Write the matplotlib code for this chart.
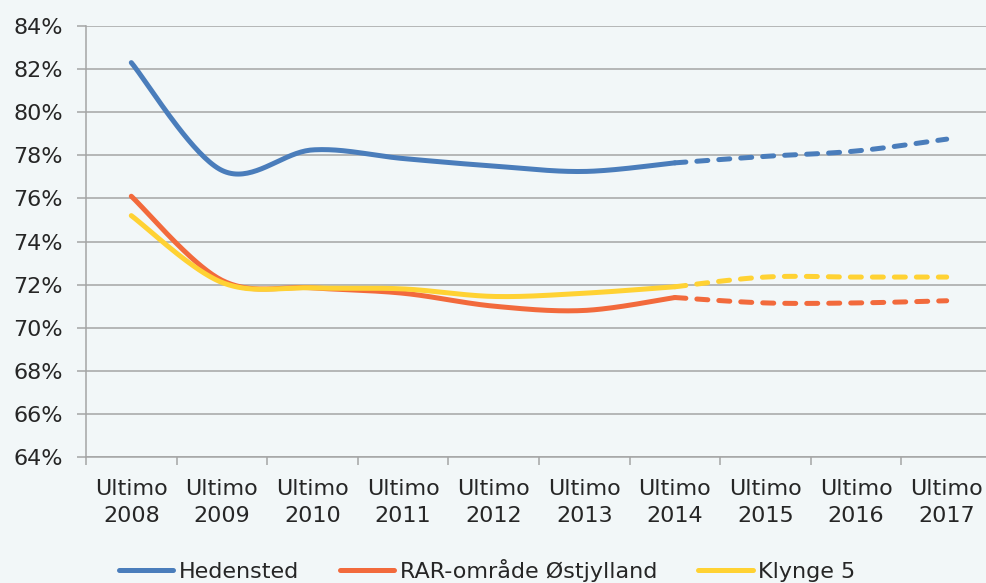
import numpy as np
import matplotlib.pyplot as plt
from matplotlib.lines import Line2D

# Data (share in percent)
years = ['Ultimo\n2008', 'Ultimo\n2009', 'Ultimo\n2010', 'Ultimo\n2011', 'Ultimo\n2012',
         'Ultimo\n2013', 'Ultimo\n2014', 'Ultimo\n2015', 'Ultimo\n2016', 'Ultimo\n2017']
hedensted = [82.3, 77.3, 78.25, 77.85, 77.5, 77.25, 77.65, 77.95, 78.2, 78.75]
rar = [76.1, 72.2, 71.85, 71.6, 71.0, 70.8, 71.4, 71.15, 71.15, 71.25]
klynge = [75.2, 72.1, 71.85, 71.8, 71.45, 71.6, 71.9, 72.35, 72.35, 72.35]
last_actual = 6  # Ultimo 2014, after that the values are projections

names = ['Hedensted', 'RAR-område Østjylland', 'Klynge 5']
colors = ['#4A7DBB', '#F26A3C', '#FFD233']
bg = '#F2F7F8'
grid_col = '#A5A5A5'
txt_col = '#262626'


def smooth(xs, ys, n=40):
    # Bezier smoothing like the spreadsheet "smoothed line" option
    p = np.column_stack([xs, ys]).astype(float)
    p = np.vstack([p[0], p, p[-1]])
    out = []
    for i in range(1, len(p) - 2):
        p0, p1, p2, p3 = p[i - 1], p[i], p[i + 1], p[i + 2]
        c1 = p1 + (p2 - p0) / 6
        c2 = p2 - (p3 - p1) / 6
        t = np.linspace(0, 1, n)[:, None]
        seg = (1 - t) ** 3 * p1 + 3 * (1 - t) ** 2 * t * c1 + 3 * (1 - t) * t ** 2 * c2 + t ** 3 * p2
        out.append(seg)
    return np.vstack(out)


fig = plt.figure(figsize=(9.86, 5.83), dpi=100, facecolor=bg)
ax = fig.add_axes([86 / 986, 1 - 457 / 583, 906 / 986, 431 / 583])
ax.set_facecolor(bg)

x = np.arange(len(years))
for vals, c in zip([hedensted, rar, klynge], colors):
    s = smooth(x[:last_actual + 1], vals[:last_actual + 1])
    ax.plot(s[:, 0], s[:, 1], color=c, lw=3.6, solid_capstyle='round', zorder=3)
    d = smooth(x[last_actual:], vals[last_actual:])
    ax.plot(d[:, 0], d[:, 1], color=c, lw=3.6, dashes=(2.2, 2.2),
            dash_capstyle='round', zorder=3)

ax.set_xlim(-0.5, len(years) - 0.5)
ax.set_ylim(64, 84)
ax.set_yticks(np.arange(64, 85, 2))
ax.set_yticklabels([f'{v}%' for v in range(64, 85, 2)])
ax.yaxis.grid(True, color=grid_col, lw=1.1)
ax.set_axisbelow(True)

ax.set_xticks(x)
ax.set_xticklabels(years, linespacing=1.4)
ax.set_xticks(np.arange(-0.5, len(years), 1), minor=True)
ax.tick_params(axis='x', which='major', length=0, pad=16, labelsize=16, labelcolor=txt_col)
ax.tick_params(axis='x', which='minor', length=6, width=1.1, color=grid_col, direction='out')
ax.tick_params(axis='y', length=6.5, width=1.1, color=grid_col, pad=10, labelsize=16,
               labelcolor=txt_col)

for side in ['top', 'right']:
    ax.spines[side].set_visible(False)
for side in ['left', 'bottom']:
    ax.spines[side].set_color(grid_col)
    ax.spines[side].set_linewidth(1.1)

handles = [Line2D([], [], color=c, lw=3.6, solid_capstyle='round') for c in colors]
fig.legend(handles, names, loc='center', bbox_to_anchor=(0.494, 0.021), ncol=3,
           frameon=False, fontsize=16, handlelength=2.45, handletextpad=0.25,
           columnspacing=1.85, labelcolor=txt_col)

fig.savefig('out.png', dpi=100, facecolor=bg)
